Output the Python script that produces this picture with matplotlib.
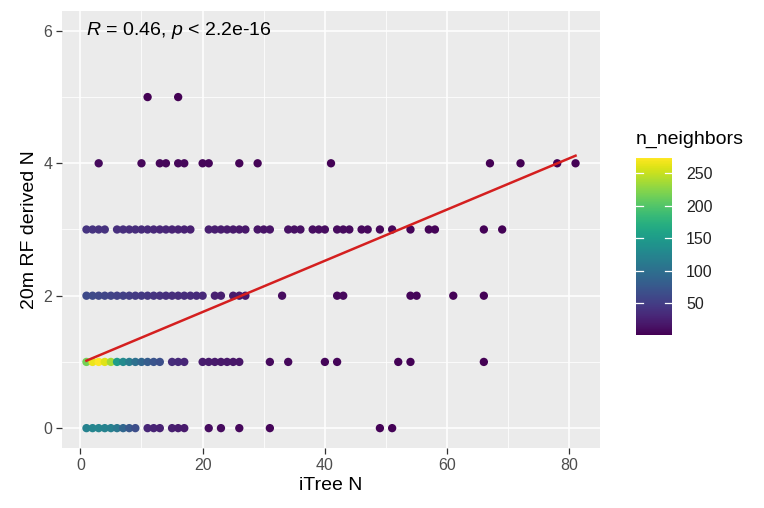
import numpy as np
import matplotlib
matplotlib.use("Agg")
import matplotlib.pyplot as plt
from matplotlib.ticker import MultipleLocator

plt.rcParams['font.family'] = ['Liberation Sans', 'DejaVu Sans']
plt.rcParams['mathtext.fontset'] = 'custom'
plt.rcParams['mathtext.rm'] = 'Liberation Sans'
plt.rcParams['mathtext.it'] = 'Liberation Sans:italic'

# iTree N values per RF-derived N row, with neighbour counts
row0_x = [1, 2, 3, 4, 5, 6, 7, 8, 9, 11, 12, 13, 15, 16, 17, 21, 23, 26, 31, 49, 51]
row0_nn = [120, 125, 125, 122, 118, 110, 90, 75, 65, 30, 28, 26, 24, 22, 20, 10, 9, 7, 5, 3, 3]

row1_x = [1, 2, 3, 4, 5, 6, 7, 8, 9, 10, 11, 12, 13, 15, 16, 17,
          20, 21, 22, 23, 24, 25, 26, 31, 34, 40, 42, 52, 54, 66]
row1_nn = [215, 265, 273, 260, 235, 150, 130, 115, 100, 90, 80, 72, 66, 35, 33, 30,
           22, 21, 20, 19, 18, 17, 16, 8, 7, 5, 5, 3, 3, 1]

row2_x = [1, 2, 3, 4, 5, 6, 7, 8, 9, 10, 11, 12, 13, 14, 15, 16, 17, 18, 19, 20,
          22, 23, 25, 26, 27, 33, 42, 43, 54, 55, 61, 66]
row2_nn = [62, 62, 60, 58, 56, 54, 52, 50, 48, 46, 44, 42, 40, 38, 37, 36, 35, 34, 33, 32,
           25, 24, 20, 20, 19, 10, 7, 7, 5, 5, 3, 3]

row3_x = [1, 2, 3, 4, 6, 7, 8, 9, 10, 11, 12, 13, 14, 15, 16, 17, 18,
          21, 22, 23, 24, 25, 26, 27, 29, 30, 31, 34, 35, 36, 38, 39, 40,
          42, 43, 44, 46, 47, 49, 51, 54, 57, 58, 66, 69]
row3_nn = [42, 42, 40, 40, 38, 38, 36, 35, 34, 33, 32, 30, 30, 28, 27, 26, 25,
           24, 23, 22, 21, 20, 19, 18, 16, 15, 15, 13, 12, 12, 11, 10, 10,
           9, 9, 8, 7, 7, 6, 6, 5, 4, 4, 3, 3]

row4_x = [3, 10, 13, 14, 16, 17, 20, 21, 26, 29, 41, 67, 72, 78, 81]
row4_nn = [8, 6, 6, 6, 6, 6, 5, 5, 4, 4, 3, 2, 2, 2, 2]

row5_x = [11, 16]
row5_nn = [2, 2]

# linear fit
fit_intercept = 0.98
fit_slope = 0.0387
stat_label = r"$R$ = 0.46, $p$ < 2.2e-16"

rows = [row0_x, row1_x, row2_x, row3_x, row4_x, row5_x]
nns = [row0_nn, row1_nn, row2_nn, row3_nn, row4_nn, row5_nn]
itree_n = np.concatenate([np.array(r, float) for r in rows])
rf_n = np.concatenate([np.full(len(r), i, float) for i, r in enumerate(rows)])
n_neighbors = np.concatenate([np.array(n, float) for n in nns])

fig = plt.figure(figsize=(7.64, 5.08), dpi=100)
ax = fig.add_axes([62 / 764, 60 / 508, 538 / 764, 437 / 508])
ax.set_facecolor('#EBEBEB')
for s in ax.spines.values():
    s.set_visible(False)

sc = ax.scatter(itree_n, rf_n, c=n_neighbors, cmap='viridis', s=36,
                linewidths=0, zorder=3)

xl = np.array([itree_n.min(), itree_n.max()])
ax.plot(xl, fit_intercept + fit_slope * xl, color='#d41f1f', lw=1.8, zorder=4)

ax.text(1, 6, stat_label, fontsize=14, ha='left', va='center', color='black')

ax.set_xlim(-3, 85)
ax.set_ylim(-0.3, 6.3)
ax.xaxis.set_major_locator(MultipleLocator(20))
ax.xaxis.set_minor_locator(MultipleLocator(10))
ax.yaxis.set_major_locator(MultipleLocator(2))
ax.yaxis.set_minor_locator(MultipleLocator(1))
ax.grid(which='major', color='white', lw=1.1, zorder=0)
ax.grid(which='minor', color='white', lw=0.55, zorder=0)
ax.set_axisbelow(True)
ax.tick_params(which='major', length=4, width=0.9, color='#333333',
               labelsize=11.5, labelcolor='#4D4D4D', pad=3)
ax.tick_params(which='minor', length=0)

ax.set_xlabel('iTree N', fontsize=14, labelpad=3)
ax.set_ylabel('20m RF derived N', fontsize=14, labelpad=4)

cax = fig.add_axes([636 / 764, 173 / 508, 36 / 764, 177 / 508])
cb = fig.colorbar(sc, cax=cax)
cb.outline.set_visible(False)
cb.set_ticks([50, 100, 150, 200, 250])
cax.tick_params(length=0, labelsize=11.5, labelcolor='#222222', pad=10)
for t in [50, 100, 150, 200, 250]:
    cax.plot([0, 0.2], [t, t], color='white', lw=0.9, transform=cax.get_yaxis_transform())
    cax.plot([0.8, 1], [t, t], color='white', lw=0.9, transform=cax.get_yaxis_transform())
fig.text(636 / 764, (508 - 148) / 508, 'n_neighbors', fontsize=14, ha='left', va='bottom')

fig.savefig('out.png', dpi=100)
